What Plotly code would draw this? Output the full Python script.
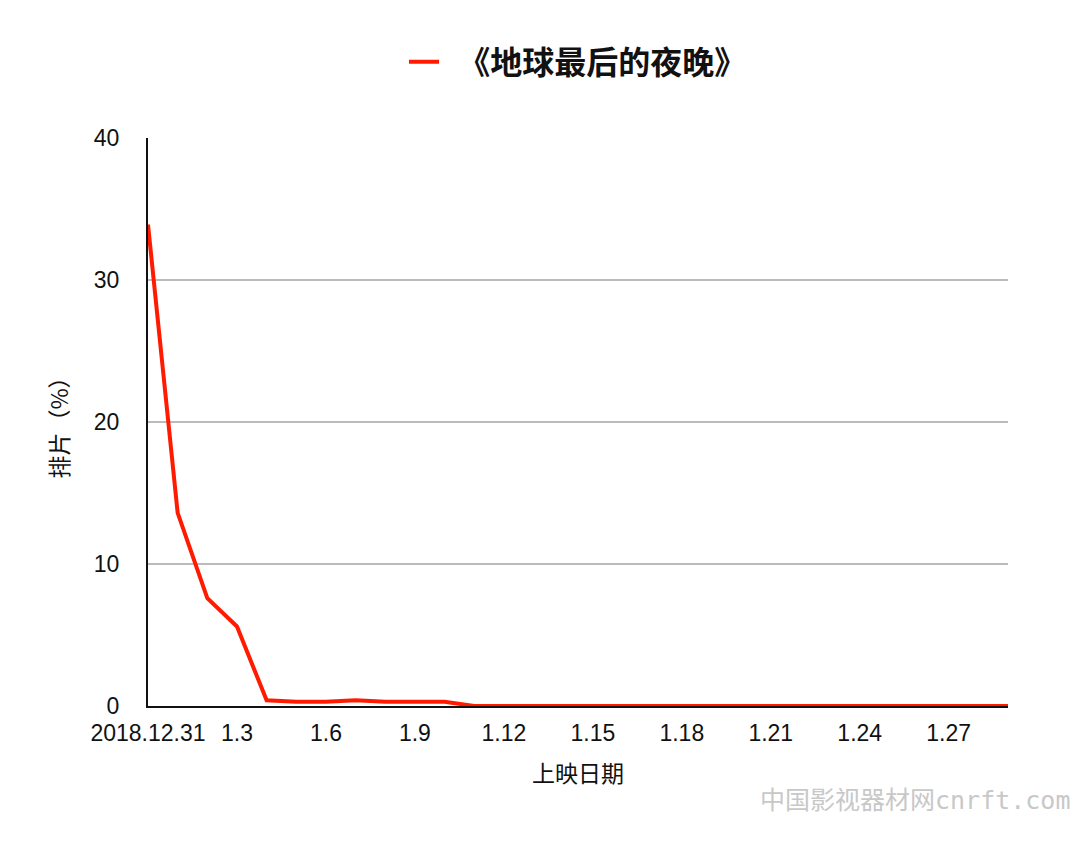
import plotly.graph_objects as go

dates = ["2018.12.31"] + [f"1.{d}" for d in range(1, 30)]
share = [33.9, 13.6, 7.6, 5.6, 0.4, 0.3, 0.3, 0.4, 0.3, 0.3, 0.3] + [0.0] * 19
series_name = "《地球最后的夜晚》"
tick_labels = dates[::3]

num_font = "Liberation Sans, Noto Sans CJK SC, sans-serif"
cjk_font = "Noto Sans CJK SC, sans-serif"

fig = go.Figure()
fig.add_trace(go.Scatter(
    x=dates, y=share, mode="lines", name="\u00a0\u00a0<b>" + series_name + "</b>",
    line=dict(color="#ff1a00", width=4),
))

fig.update_layout(
    width=1080, height=846,
    paper_bgcolor="white", plot_bgcolor="white",
    margin=dict(l=140, r=80, t=130, b=148),
    showlegend=True,
    legend=dict(orientation="h", x=0.5, xanchor="center", y=1 - 54 / 846, yref="container",
                yanchor="middle", font=dict(family=cjk_font, size=32, color="#111"),
                itemwidth=30, tracegroupgap=0),
    xaxis=dict(
        type="category", range=[0, len(dates) - 1],
        tickmode="array", tickvals=tick_labels, ticktext=tick_labels,
        showgrid=False, showline=True, linecolor="#111", linewidth=2,
        ticks="", ticklabelstandoff=5,
        tickfont=dict(family=num_font, size=23, color="#111"),
        title=dict(text="上映日期", font=dict(family=cjk_font, size=23, color="#111"), standoff=21),
        zeroline=False,
    ),
    yaxis=dict(
        range=[0, 40], tickvals=[0, 10, 20, 30, 40],
        showgrid=True, gridcolor="#bbbbbb", gridwidth=2,
        showline=True, linecolor="#111", linewidth=2,
        ticks="", ticklabelstandoff=22,
        tickfont=dict(family=num_font, size=23, color="#111"),
        title=dict(text="排片（%）", font=dict(family=cjk_font, size=23, color="#111"), standoff=19),
        zeroline=False,
    ),
    annotations=[dict(
        text="中国影视器材网cnrft.com", xref="paper", yref="paper",
        x=(1072 - 148) / 860, y=-(800 - 706) / 568, xanchor="right", yanchor="middle",
        showarrow=False,
        font=dict(family="DejaVu Sans Mono, Noto Sans CJK SC, monospace", size=25, color="#c8c8c8"),
    )],
)

fig.write_html("out.html")
